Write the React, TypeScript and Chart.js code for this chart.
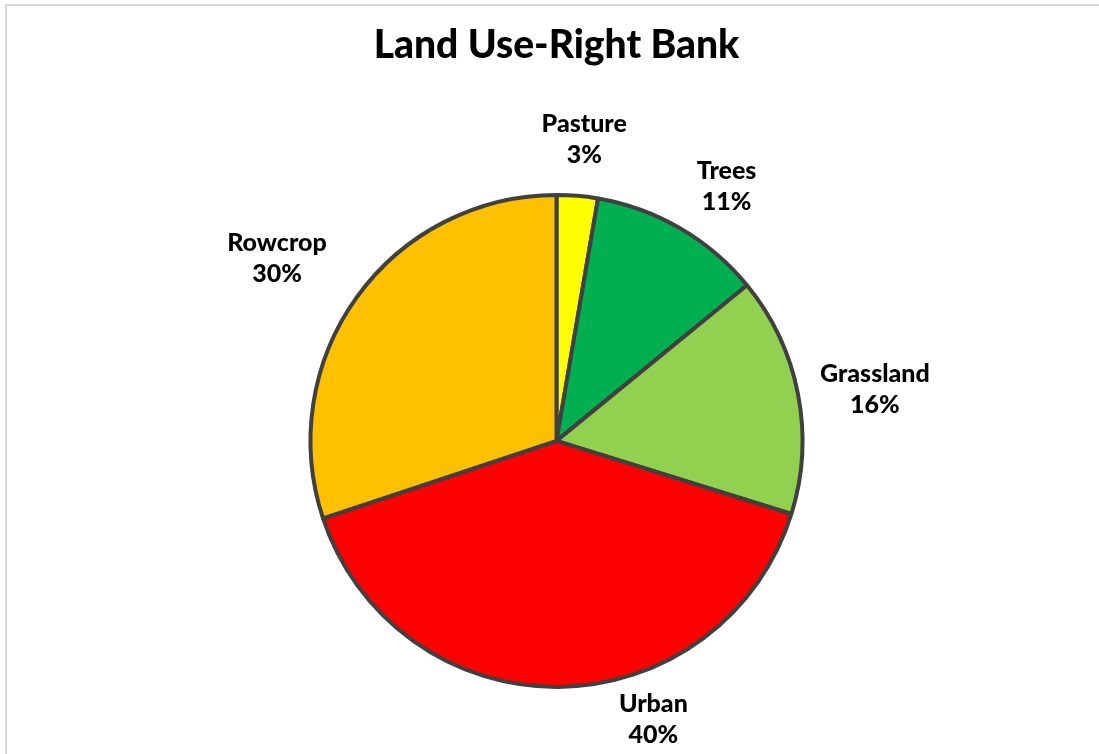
import React, { useEffect, useRef } from "react";
import { Chart, registerables } from "chart.js";

Chart.register(...registerables);

const categories = ["Pasture", "Trees", "Grassland", "Urban", "Rowcrop"];
const values = [2.7, 11.4, 15.7, 40.1, 30.1];
const colors = ["#FFFF00", "#00B050", "#92D050", "#FF0000", "#FFC000"];
const titleText = "Land Use-Right Bank";

// label placement nudges (pixels) relative to the radial anchor
const labelNudges: [number, number][] = [
  [2, 1],
  [17, 8],
  [20, 6],
  [94, -25],
  [-33, -5],
];

const frameAndLabels = {
  id: "frameAndLabels",
  beforeDraw(chart: any) {
    const { ctx, width, height } = chart;
    ctx.save();
    ctx.fillStyle = "#ffffff";
    ctx.fillRect(0, 0, width, height);
    ctx.strokeStyle = "#d9d9d9";
    ctx.lineWidth = 2;
    ctx.beginPath();
    ctx.moveTo(6, height + 5);
    ctx.lineTo(6, 5);
    ctx.lineTo(width + 5, 5);
    ctx.stroke();
    ctx.restore();
  },
  afterDatasetsDraw(chart: any) {
    const { ctx } = chart;
    const meta = chart.getDatasetMeta(0);
    const data = chart.data.datasets[0].data as number[];
    const total = data.reduce((a: number, b: number) => a + b, 0);
    ctx.save();
    ctx.font = "900 25px Lato";
    ctx.fillStyle = "#000000";
    ctx.textAlign = "center";
    ctx.textBaseline = "middle";
    meta.data.forEach((arc: any, i: number) => {
      const p = arc.getProps(["x", "y", "startAngle", "endAngle", "outerRadius"], true);
      const mid = (p.startAngle + p.endAngle) / 2;
      const R = p.outerRadius + 58;
      const [nx, ny] = labelNudges[i] || [0, 0];
      const x = p.x + R * Math.cos(mid) + nx;
      const y = p.y + R * Math.sin(mid) + ny;
      const pct = Math.round((data[i] / total) * 100) + "%";
      ctx.fillText(chart.data.labels[i], x, y - 15.5);
      ctx.fillText(pct, x, y + 15.5);
    });
    ctx.restore();
  },
};

export default function App() {
  const ref = useRef<HTMLCanvasElement | null>(null);
  useEffect(() => {
    document.body.style.margin = "0";
    const canvas = ref.current;
    if (!canvas) return;
    const chart = new Chart(canvas, {
      type: "pie",
      data: {
        labels: categories,
        datasets: [
          {
            data: values,
            backgroundColor: colors,
            borderColor: "#404040",
            borderWidth: 4,
            hoverBorderWidth: 4,
            hoverOffset: 0,
          },
        ],
      },
      options: {
        responsive: false,
        animation: false,
        events: [],
        layout: { padding: { left: 308.5, right: 294.5, top: 0, bottom: 65 } },
        plugins: {
          legend: { display: false },
          tooltip: { enabled: false },
          title: {
            display: true,
            text: titleText,
            color: "#000000",
            font: { family: "Lato", size: 39, weight: "900" },
            padding: { top: 22, bottom: 124 },
          },
        },
      },
      plugins: [frameAndLabels],
    });
    return () => chart.destroy();
  }, []);
  return (
    <div style={{ position: "fixed", left: 0, top: 0, width: 1099, height: 754 }}>
      <canvas ref={ref} width={1099} height={754} style={{ display: "block" }} />
    </div>
  );
}
